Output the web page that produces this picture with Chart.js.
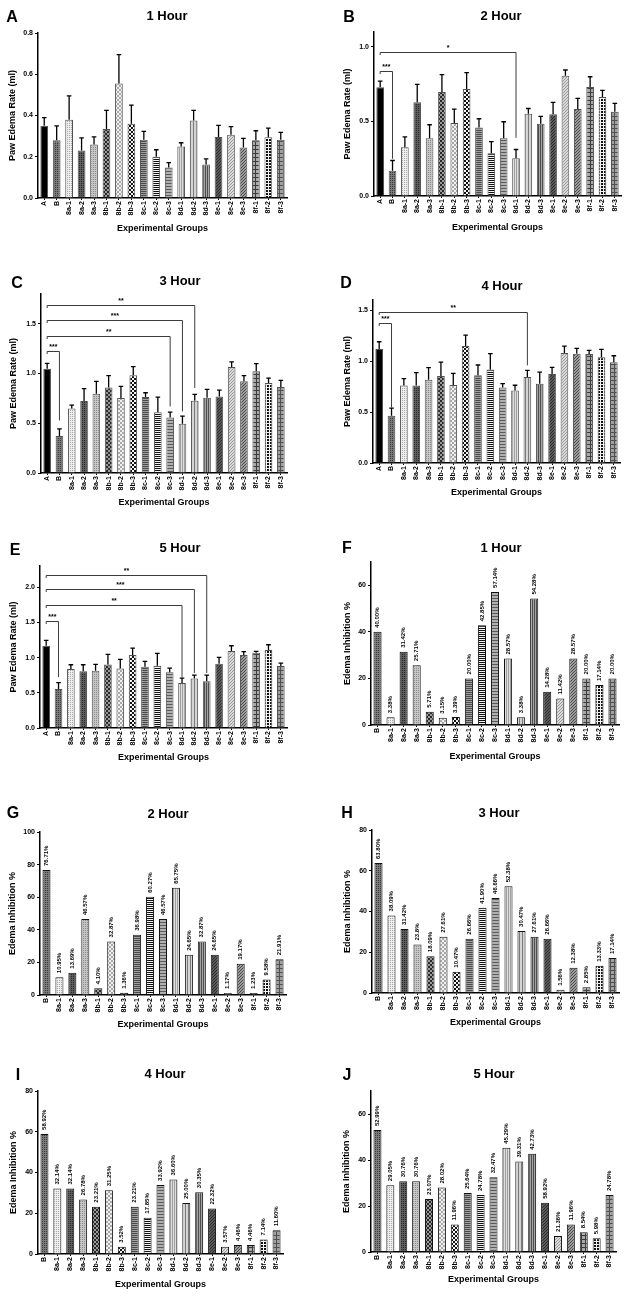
<!DOCTYPE html>
<html>
<head>
<meta charset="utf-8">
<script src="https://cdn.jsdelivr.net/npm/chart.js@4.4.1/dist/chart.umd.min.js"></script>
<style>
html,body{margin:0;padding:0;background:#fff;}
body{width:629px;height:1299px;position:relative;overflow:hidden;font-family:"Liberation Sans",Arial,sans-serif;color:#000;}
canvas{position:absolute;}
.letter{position:absolute;font-size:16px;font-weight:bold;line-height:1;transform:translate(-50%,-50%);}
.title{position:absolute;font-size:13px;font-weight:bold;line-height:1;transform:translate(-50%,-50%);white-space:nowrap;}
</style>
</head>
<body>
<script>
/* Paw edema (A-E) and edema inhibition (F-J) per group, 1-5 h */

// ---- data ----
const groupsEdema = ["A","B","8a-1","8a-2","8a-3","8b-1","8b-2","8b-3","8c-1","8c-2","8c-3","8d-1","8d-2","8d-3","8e-1","8e-2","8e-3","8f-1","8f-2","8f-3"];
const groupsInhib = ["B","8a-1","8a-2","8a-3","8b-1","8b-2","8b-3","8c-1","8c-2","8c-3","8d-1","8d-2","8d-3","8e-1","8e-2","8e-3","8f-1","8f-2","8f-3"];

// mean and mean+SEM (top of error bar), ml
const edema1h    = [0.35,0.28,0.38,0.23,0.26,0.335,0.555,0.36,0.283,0.20,0.148,0.25,0.376,0.163,0.296,0.307,0.245,0.28,0.294,0.283];
const edema1hErr = [0.39,0.35,0.495,0.292,0.296,0.425,0.695,0.45,0.323,0.234,0.172,0.268,0.425,0.19,0.352,0.346,0.289,0.326,0.339,0.318];
const edema2h    = [0.729,0.17,0.327,0.628,0.388,0.697,0.489,0.717,0.46,0.287,0.388,0.253,0.552,0.484,0.549,0.807,0.583,0.731,0.664,0.565];
const edema2hErr = [0.771,0.238,0.397,0.749,0.478,0.814,0.583,0.827,0.518,0.365,0.498,0.312,0.587,0.534,0.628,0.845,0.655,0.8,0.709,0.621];
const edema3h    = [1.049,0.373,0.649,0.723,0.797,0.861,0.753,0.982,0.763,0.612,0.558,0.494,0.727,0.757,0.77,1.066,0.922,1.023,0.905,0.864];
const edema3hErr = [1.103,0.444,0.683,0.848,0.922,0.979,0.871,1.07,0.807,0.763,0.612,0.572,0.79,0.841,0.834,1.117,0.979,1.1,0.955,0.932];
const edema4h    = [1.118,0.463,0.76,0.76,0.818,0.854,0.766,1.148,0.861,0.919,0.74,0.711,0.844,0.779,0.874,1.079,1.073,1.069,1.037,0.988];
const edema4hErr = [1.19,0.538,0.828,0.887,0.936,0.991,0.88,1.255,0.962,1.073,0.779,0.763,0.91,0.893,0.939,1.148,1.125,1.105,1.115,1.053];
const edema5h    = [1.168,0.553,0.837,0.804,0.813,0.903,0.846,1.035,0.87,0.884,0.79,0.638,0.704,0.662,0.913,1.092,1.035,1.069,1.106,0.879];
const edema5hErr = [1.243,0.643,0.898,0.898,0.903,1.045,0.974,1.135,0.946,1.059,0.851,0.709,0.752,0.752,1.002,1.168,1.083,1.087,1.182,0.922];

// significance brackets: [from, to, level, drop-to, stars]
const sig1h = [];
const sig2h = [["A","B",0.836,0.25,"***"],["A","8d-1",0.966,0.39,"*"]];
const sig3h = [["A","B",1.224,0.528,"***"],["A","8c-3",1.376,0.669,"**"],["A","8d-1",1.534,0.619,"***"],["A","8d-2",1.689,0.854,"**"]];
const sig4h = [["A","B",1.373,0.545,"***"],["A","8d-2",1.487,0.959,"**"]];
const sig5h = [["A","B",1.518,0.723,"***"],["A","8d-1",1.749,0.72,"**"],["A","8d-2",1.967,0.78,"***"],["A","8d-3",2.17,0.78,"**"]];

// inhibition %, bar heights and printed labels
const inhib1h = [40.00,3.38,31.42,25.71,5.71,3.15,3.39,20.00,42.85,57.14,28.57,3.38,54.28,14.28,11.42,28.57,20.00,17.14,20.00];
const inhib1hText = ["40.00%","3.38%","31.42%","25.71%","5.71%","3.15%","3.39%","20.00%","42.85%","57.14%","28.57%","3.38%","54.28%","14.28%","11.42%","28.57%","20.00%","17.14%","20.00%"];
const inhib2h = [76.71,10.95,13.69,46.57,4.10,32.87,1.36,36.98,60.27,46.57,65.75,24.65,32.87,24.65,1.17,19.17,1.23,9.58,21.91];
const inhib2hText = ["76.71%","10.95%","13.69%","46.57%","4.10%","32.87%","1.36%","36.98%","60.27%","46.57%","65.75%","24.65%","32.87%","24.65%","1.17%","19.17%","1.23%","9.58%","21.91%"];
const inhib3h = [63.80,38.09,31.42,23.8,18.09,27.61,10.47,26.66,41.90,46.66,52.38,30.47,27.61,26.66,1.56,12.38,2.85,13.33,17.14];
const inhib3hText = ["63.80%","38.09%","31.42%","23.8%","18.09%","27.61%","10.47%","26.66%","41.90%","46.66%","52.38%","30.47%","27.61%","26.66%","1.56%","12.38%","2.85%","13.33%","17.14%"];
const inhib4h = [58.92,32.14,32.14,26.78,23.21,31.25,3.52,23.21,17.85,33.92,36.60,25.00,30.35,22.32,3.57,4.46,4.46,7.14,11.60];
const inhib4hText = ["58.92%","32.14%","32.14%","26.78%","23.21%","31.25%","3.52%","23.21%","17.85%","33.92%","36.60%","25.00%","30.35%","22.32%","3.57%","4.46%","4.46%","7.14%","11.60%"];
const inhib5h = [52.99,29.05,30.76,30.76,23.07,28.02,11.96,25.64,24.78,32.47,45.29,39.31,42.73,21.4,7.0,11.96,8.54,5.98,24.78];
const inhib5hText = ["52.99%","29.05%","30.76%","30.76%","23.07%","28.02%","11.96%","25.64%","24.78%","32.47%","45.29%","39.31%","42.73%","58.92%","21.36%","11.96%","8.54%","5.98%","24.78%"];

// y ticks
const ticks1h = [0,0.2,0.4,0.6,0.8];
const ticks2h = [0,0.5,1.0];
const ticks3h = [0,0.5,1.0,1.5];
const ticks4h = [0,0.5,1.0,1.5];
const ticks5h = [0,0.5,1.0,1.5,2.0];
const ticksInhib1h = [0,20,40,60];
const ticksInhib2h = [0,20,40,60,80,100];
const ticksInhib3h = [0,20,40,60,80];
const ticksInhib4h = [0,20,40,60,80];
const ticksInhib5h = [0,20,40,60];

// ---- styling ----
const FONT = '"Liberation Sans", Arial, sans-serif';
Chart.defaults.font.family = FONT;

function tile(n, draw){
  const c = document.createElement("canvas");
  c.width = n; c.height = n;
  const x = c.getContext("2d");
  draw(x, n);
  return x.createPattern(c, "repeat");
}
const dots = (bg,fg,n)=>tile(n,(x)=>{ x.fillStyle=bg; x.fillRect(0,0,n,n); x.fillStyle=fg; x.fillRect(0,0,1,1); });
const checker = (a,b,s)=>tile(2*s,(x)=>{ x.fillStyle=a; x.fillRect(0,0,2*s,2*s); x.fillStyle=b; x.fillRect(0,0,s,s); x.fillRect(s,s,s,s); });
const hlines = (bg,fg,n)=>tile(n,(x)=>{ x.fillStyle=bg; x.fillRect(0,0,n,n); x.fillStyle=fg; x.fillRect(0,0,n,1); });
const vlines = (bg,fg,n)=>tile(n,(x)=>{ x.fillStyle=bg; x.fillRect(0,0,n,n); x.fillStyle=fg; x.fillRect(0,0,1,n); });
const diag = (bg,fg,n)=>tile(n,(x)=>{ x.fillStyle=bg; x.fillRect(0,0,n,n); x.fillStyle=fg; for(let i=0;i<n;i++) x.fillRect(i,n-1-i,1,1); });
const grid = (bg,fg,n)=>tile(n,(x)=>{ x.fillStyle=bg; x.fillRect(0,0,n,n); x.fillStyle=fg; x.fillRect(0,0,n,1); x.fillRect(0,0,1,n); });

const fills = {
  "A": "#000",
  "B": dots("#7a7a7a","#3a3a3a",2),
  "8a-1": dots("#eeeeee","#a8a8a8",2),
  "8a-2": dots("#5c5c5c","#2a2a2a",2),
  "8a-3": dots("#c6c6c6","#8a8a8a",2),
  "8b-1": checker("#2a2a2a","#9a9a9a",2),
  "8b-2": checker("#f0f0f0","#a8a8a8",2),
  "8b-3": checker("#111","#f4f4f4",2),
  "8c-1": hlines("#a0a0a0","#4a4a4a",2),
  "8c-2": hlines("#f4f4f4","#111",2),
  "8c-3": hlines("#b0b0b0","#5a5a5a",3),
  "8d-1": vlines("#dedede","#a0a0a0",2),
  "8d-2": vlines("#d4d4d4","#7a7a7a",3),
  "8d-3": vlines("#a4a4a4","#4e4e4e",2),
  "8e-1": diag("#5a5a5a","#2a2a2a",3),
  "8e-2": diag("#dadada","#9a9a9a",3),
  "8e-3": diag("#9c9c9c","#4a4a4a",3),
  "8f-1": grid("#a8a8a8","#3c3c3c",4),
  "8f-2": grid("#111","#f4f4f4",3),
  "8f-3": grid("#a0a0a0","#505050",4)
};

// ---- plugins ----
const errBars = {
  id: "errbars",
  afterDatasetsDraw(chart, args, opts){
    if(!opts.errs) return;
    const y = chart.scales.y, ctx = chart.ctx;
    ctx.save();
    ctx.strokeStyle = "#000"; ctx.lineWidth = 1.3;
    chart.getDatasetMeta(0).data.forEach((bar,i)=>{
      const yt = y.getPixelForValue(opts.errs[i]);
      ctx.beginPath();
      ctx.moveTo(bar.x, bar.y); ctx.lineTo(bar.x, yt);
      ctx.moveTo(bar.x-2.3, yt); ctx.lineTo(bar.x+2.3, yt);
      ctx.stroke();
    });
    ctx.restore();
  }
};

const brackets = {
  id: "brackets",
  afterDatasetsDraw(chart, args, opts){
    const sig = opts.sig || [];
    if(!sig.length) return;
    const xs = chart.scales.x, ys = chart.scales.y, ctx = chart.ctx;
    const labels = chart.data.labels;
    ctx.save();
    ctx.strokeStyle = "#3c3c3c"; ctx.lineWidth = 1; ctx.fillStyle = "#000";
    ctx.font = "bold 7px " + FONT;
    ctx.textAlign = "center"; ctx.textBaseline = "bottom";
    sig.forEach(([g1,g2,level,drop,txt])=>{
      const x1 = xs.getPixelForValue(labels.indexOf(g1));
      const x2 = xs.getPixelForValue(labels.indexOf(g2));
      const yl = Math.round(ys.getPixelForValue(level)) + 0.5;
      const yd = ys.getPixelForValue(drop);
      ctx.beginPath();
      ctx.moveTo(x1, yl+2.5); ctx.lineTo(x1, yl); ctx.lineTo(x2, yl); ctx.lineTo(x2, yd);
      ctx.stroke();
      ctx.fillText(txt, (x1+x2)/2, yl - 0.5);
    });
    ctx.restore();
  }
};

const valueLabels = {
  id: "vlabels",
  afterDatasetsDraw(chart, args, opts){
    if(!opts.texts) return;
    const ctx = chart.ctx;
    ctx.save();
    ctx.fillStyle = "#000";
    ctx.font = "bold 6px " + FONT;
    ctx.textAlign = "left"; ctx.textBaseline = "middle";
    chart.getDatasetMeta(0).data.forEach((bar,i)=>{
      ctx.save();
      ctx.translate(bar.x, bar.y - 4);
      ctx.rotate(-Math.PI/2);
      ctx.fillText(opts.texts[i], 0, 0);
      ctx.restore();
    });
    ctx.restore();
  }
};

// ---- panels ----
const panels = [
  {letter:"A", title:"1 Hour", labels:groupsEdema, values:edema1h, errs:edema1hErr, sig:sig1h, max:0.8, ticks:ticks1h, edema:true,
   box:{yTitleX:12, L:38, R:287, T:33, B:198, xTitleY:229, letterXY:[12,17], titleXY:[167,15]}},
  {letter:"B", title:"2 Hour", labels:groupsEdema, values:edema2h, errs:edema2hErr, sig:sig2h, max:1.1, ticks:ticks2h, edema:true,
   box:{yTitleX:347, L:374, R:621, T:32, B:196, xTitleY:228, letterXY:[349,17], titleXY:[501,15]}},
  {letter:"C", title:"3 Hour", labels:groupsEdema, values:edema3h, errs:edema3hErr, sig:sig3h, max:1.8, ticks:ticks3h, edema:true,
   box:{yTitleX:13, L:41, R:287, T:294, B:473, xTitleY:503, letterXY:[17,283], titleXY:[180,280]}},
  {letter:"D", title:"4 Hour", labels:groupsEdema, values:edema4h, errs:edema4hErr, sig:sig4h, max:1.6, ticks:ticks4h, edema:true,
   box:{yTitleX:347, L:373, R:620, T:300, B:463, xTitleY:493, letterXY:[346,283], titleXY:[502,285]}},
  {letter:"E", title:"5 Hour", labels:groupsEdema, values:edema5h, errs:edema5hErr, sig:sig5h, max:2.3, ticks:ticks5h, edema:true,
   box:{yTitleX:13, L:40, R:287, T:566, B:728, xTitleY:758, letterXY:[15,550], titleXY:[180,547]}},
  {letter:"F", title:"1 Hour", labels:groupsInhib, values:inhib1h, texts:inhib1hText, max:70, ticks:ticksInhib1h,
   box:{yTitleX:347, L:371, R:619, T:562, B:725, xTitleY:757, letterXY:[347,548], titleXY:[501,547]}},
  {letter:"G", title:"2 Hour", labels:groupsInhib, values:inhib2h, texts:inhib2hText, max:100, ticks:ticksInhib2h,
   box:{yTitleX:12, L:40, R:286, T:832, B:995, xTitleY:1025, letterXY:[13,813], titleXY:[168,813]}},
  {letter:"H", title:"3 Hour", labels:groupsInhib, values:inhib3h, texts:inhib3hText, max:80, ticks:ticksInhib3h,
   box:{yTitleX:347, L:372, R:619, T:830, B:993, xTitleY:1023, letterXY:[347,813], titleXY:[499,812]}},
  {letter:"I", title:"4 Hour", labels:groupsInhib, values:inhib4h, texts:inhib4hText, max:80, ticks:ticksInhib4h,
   box:{yTitleX:13, L:38, R:283, T:1091, B:1254, xTitleY:1285, letterXY:[18,1075], titleXY:[165,1073]}},
  {letter:"J", title:"5 Hour", labels:groupsInhib, values:inhib5h, texts:inhib5hText, max:70, ticks:ticksInhib5h,
   box:{yTitleX:346, L:371, R:616, T:1091, B:1252, xTitleY:1280, letterXY:[347,1075], titleXY:[494,1073]}}
];

function addText(cls, txt, xy){
  const d = document.createElement("div");
  d.className = cls; d.textContent = txt;
  d.style.left = xy[0] + "px"; d.style.top = xy[1] + "px";
  document.body.appendChild(d);
}

function buildPanel(p){
  const b = p.box;
  const left = Math.round(b.yTitleX - 5);
  const top = b.T - 12;
  const right = b.R + 4;
  const bottom = b.xTitleY + 7;
  const cv = document.createElement("canvas");
  cv.width = right - left; cv.height = bottom - top;
  cv.style.left = left + "px"; cv.style.top = top + "px";
  document.body.appendChild(cv);

  const tickFont = {family:FONT, size:7, weight:"bold"};
  const titleFont = {family:FONT, size:9, weight:"bold"};

  new Chart(cv.getContext("2d"), {
    type: "bar",
    data: {
      labels: p.labels,
      datasets: [{
        data: p.values,
        backgroundColor: p.labels.map(g=>fills[g]),
        borderColor: p.edema ? "#505050" : "#111",
        borderWidth: 1,
        barPercentage: 0.62,
        categoryPercentage: 1
      }]
    },
    options: {
      responsive: false,
      animation: false,
      devicePixelRatio: 1,
      layout: { padding: {top:12, right:4, left:0, bottom:0}, autoPadding: false },
      plugins: {
        legend: {display:false},
        tooltip: {enabled:false},
        errbars: {errs: p.errs},
        brackets: {sig: p.sig},
        vlabels: {texts: p.texts}
      },
      scales: {
        x: {
          grid: {drawOnChartArea:false, drawTicks:true, tickLength:2, color:"#000", offset:false},
          border: {display:true, color:"#000", width:1.5},
          ticks: {autoSkip:false, maxRotation:90, minRotation:90, padding:1, color:"#000", font:tickFont},
          title: {display:true, text:"Experimental Groups", color:"#000", font:titleFont, padding:{top:0, bottom:1.6}},
          afterFit: (s)=>{ s.height = bottom - b.B; }
        },
        y: {
          min: 0, max: p.max,
          grid: {drawOnChartArea:false, drawTicks:true, tickLength:3, color:"#000"},
          border: {display:true, color:"#000", width:1.5},
          ticks: {color:"#000", padding:2, font:tickFont,
                  callback: (v)=> p.edema ? Number(v).toFixed(1) : String(v)},
          afterBuildTicks: (s)=>{ s.ticks = p.ticks.map(v=>({value:v})); },
          title: {display:true, text: p.edema ? "Paw Edema Rate (ml)" : "Edema Inhibition %", color:"#000", font:titleFont, padding:{top:0, bottom:0}},
          afterFit: (s)=>{ s.width = b.L - left; }
        }
      }
    },
    plugins: [errBars, brackets, valueLabels]
  });

  addText("letter", p.letter, b.letterXY);
  addText("title", p.title, b.titleXY);
}

panels.forEach(buildPanel);
</script>
</body>
</html>
